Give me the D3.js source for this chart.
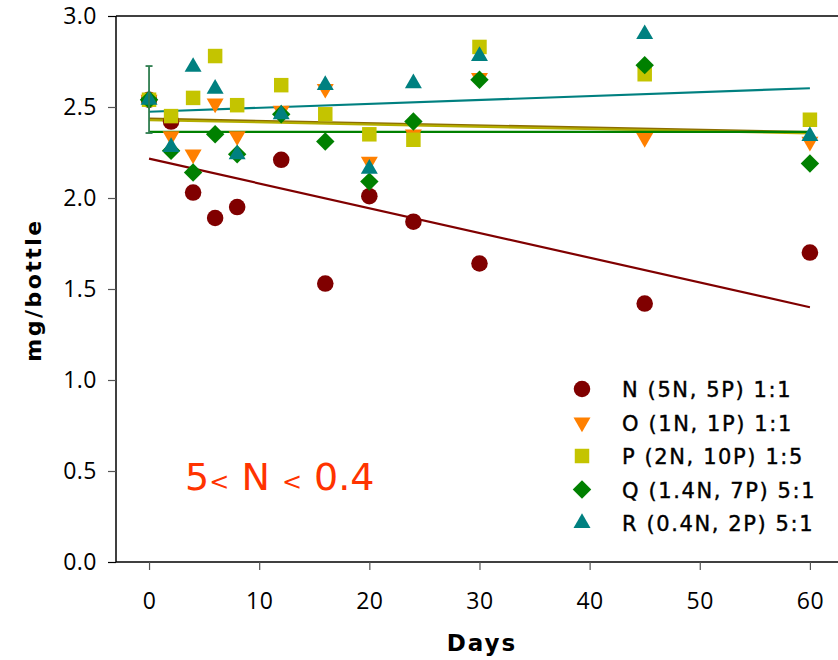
<!DOCTYPE html>
<html>
<head>
<meta charset="utf-8">
<title>mg/bottle vs Days</title>
<script src="https://d3js.org/d3.v7.min.js"></script>
<style>
    body { margin: 0; background: #fff; }
    svg text { fill: #000; }
</style>
</head>
<body>
<svg id="chart" width="838" height="660"></svg>
<script>
    // data
    var days = [0, 2, 4, 6, 8, 12, 16, 20, 24, 30, 45, 60];
    var seriesN = [2.54, 2.42, 2.03, 1.89, 1.95, 2.21, 1.53, 2.01, 1.87, 1.64, 1.42, 1.70];
    var seriesO = [2.54, 2.34, 2.24, 2.52, 2.34, 2.48, 2.60, 2.20, 2.35, 2.66, 2.33, 2.31];
    var seriesP = [2.54, 2.45, 2.55, 2.78, 2.51, 2.62, 2.46, 2.35, 2.32, 2.83, 2.68, 2.43];
    var seriesQ = [2.54, 2.26, 2.14, 2.35, 2.24, 2.46, 2.31, 2.09, 2.42, 2.65, 2.73, 2.19];
    var seriesR = [2.54, 2.28, 2.72, 2.60, 2.24, 2.46, 2.62, 2.16, 2.63, 2.78, 2.90, 2.34];

    // regression lines, value at day 0 and day 60
    var trendDays = [0, 60];
    var trendN = [2.216, 1.40];
    var trendO = [2.436, 2.362];
    var trendP = [2.428, 2.355];
    var trendQ = [2.363, 2.363];
    var trendR = [2.474, 2.603];

    // error bar at day 0
    var errDay = 0;
    var errLow = 2.357;
    var errHigh = 2.725;

    var legendLabels = ["N (5N, 5P) 1:1", "O (1N, 1P) 1:1", "P (2N, 10P) 1:5", "Q (1.4N, 7P) 5:1", "R (0.4N, 2P) 5:1"];
    var xTicks = [0, 10, 20, 30, 40, 50, 60];
    var yTicks = [0, 0.5, 1.0, 1.5, 2.0, 2.5, 3.0];

    var series = [
        {name: "N", values: seriesN, trend: trendN, color: "#800000", lineColor: "#800000", shape: "circle"},
        {name: "O", values: seriesO, trend: trendO, color: "#ff8000", lineColor: "#8c6d00", shape: "down"},
        {name: "P", values: seriesP, trend: trendP, color: "#c4c400", lineColor: "#b3ad00", shape: "square"},
        {name: "Q", values: seriesQ, trend: trendQ, color: "#008000", lineColor: "#008000", shape: "diamond"},
        {name: "R", values: seriesR, trend: trendR, color: "#008080", lineColor: "#008080", shape: "up"}
    ];

    var svg = d3.select("#chart");
    var pLeft = 116, pRight = 838, pTop = 16, pBottom = 562;

    var x = d3.scaleLinear().domain([-3, 62.55]).range([pLeft, pRight]);
    var y = d3.scaleLinear().domain([0, 3]).range([pBottom, pTop]);

    function markerPath(shape) {
        if (shape == "circle") return d3.symbol().type(d3.symbolCircle).size(215)();
        if (shape == "square") return d3.symbol().type(d3.symbolSquare).size(210)();
        if (shape == "diamond") return d3.symbol().type(d3.symbolSquare).size(170)();
        return d3.symbol().type(d3.symbolTriangle).size(125)();
    }
    function markerRotate(shape) {
        if (shape == "down") return 180;
        if (shape == "diamond") return 45;
        return 0;
    }

    // frame top
    svg.append("line")
        .attr("x1", pLeft).attr("x2", pRight)
        .attr("y1", pTop).attr("y2", pTop)
        .attr("stroke", "#000").attr("stroke-width", 1.5);

    // axes
    var yAxis = d3.axisLeft(y).tickValues(yTicks).tickFormat(d3.format(".1f"))
        .tickSize(8).tickPadding(11);
    var gy = svg.append("g").attr("transform", "translate(" + pLeft + ",0)").call(yAxis);

    var xAxis = d3.axisBottom(x).tickValues(xTicks).tickFormat(d3.format("d"))
        .tickSize(8).tickPadding(23);
    var gx = svg.append("g").attr("transform", "translate(0," + pBottom + ")").call(xAxis);

    [gx, gy].forEach(function(g) {
        g.select(".domain").attr("stroke", "#000").attr("stroke-width", 1.5);
        g.selectAll(".tick line").attr("stroke", "#555").attr("stroke-width", 1.2);
        g.selectAll(".tick text")
            .attr("font-family", "Open Sans")
            .attr("font-size", 23)
            .attr("letter-spacing", 0.5)
            .attr("fill", "#000");
    });
    gx.select(".domain").attr("d", "M" + pLeft + ",0H" + pRight);
    gy.select(".domain").attr("d", "M0," + pTop + "V" + pBottom);
    gy.selectAll(".tick line").filter(function(d) { return d === 0 || d === 3; })
        .attr("stroke", "#000");

    // trend lines
    series.forEach(function(s) {
        svg.append("line")
            .attr("x1", x(trendDays[0])).attr("y1", y(s.trend[0]))
            .attr("x2", x(trendDays[1])).attr("y2", y(s.trend[1]))
            .attr("stroke", s.lineColor).attr("stroke-width", 2.2);
    });

    // points
    series.forEach(function(s) {
        svg.append("g").selectAll("path")
            .data(s.values)
            .enter().append("path")
            .attr("d", markerPath(s.shape))
            .attr("transform", function(d, i) {
                return "translate(" + x(days[i]) + "," + y(d) + ") rotate(" + markerRotate(s.shape) + ")";
            })
            .attr("fill", s.color);
    });

    // error bar
    var eb = svg.append("g").attr("stroke", "#2e7d4f").attr("stroke-width", 1.8);
    eb.append("line").attr("x1", x(errDay)).attr("x2", x(errDay))
        .attr("y1", y(errLow)).attr("y2", y(errHigh));
    eb.append("line").attr("x1", x(errDay) - 3.5).attr("x2", x(errDay) + 3.5)
        .attr("y1", y(errLow)).attr("y2", y(errLow));
    eb.append("line").attr("x1", x(errDay) - 3.5).attr("x2", x(errDay) + 3.5)
        .attr("y1", y(errHigh)).attr("y2", y(errHigh));

    // legend
    var legend = svg.append("g").attr("transform", "translate(582,389)");
    series.forEach(function(s, i) {
        var row = legend.append("g").attr("transform", "translate(0," + (i * 33.5) + ")");
        row.append("path")
            .attr("d", markerPath(s.shape))
            .attr("transform", "rotate(" + markerRotate(s.shape) + ")")
            .attr("fill", s.color);
        row.append("text")
            .attr("x", 40).attr("y", 8)
            .attr("font-family", "DejaVu Sans")
            .attr("font-size", 21)
            .attr("letter-spacing", 1.6)
            .attr("stroke", "#000").attr("stroke-width", 0.4)
            .text(legendLabels[i]);
    });

    // axis titles
    svg.append("text")
        .attr("transform", "translate(41,290) rotate(-90)")
        .attr("text-anchor", "middle")
        .attr("font-family", "DejaVu Sans")
        .attr("font-weight", "bold")
        .attr("font-size", 22)
        .attr("letter-spacing", 2.5)
        .text("mg/bottle");

    svg.append("text")
        .attr("x", 482).attr("y", 651)
        .attr("text-anchor", "middle")
        .attr("font-family", "DejaVu Sans")
        .attr("font-weight", "bold")
        .attr("font-size", 23)
        .attr("letter-spacing", 2)
        .text("Days");

    // annotation
    var note = svg.append("text")
        .attr("x", 185).attr("y", 490)
        .attr("font-family", "DejaVu Sans")
        .attr("font-size", 38)
        .style("fill", "#ff3300");
    note.append("tspan").text("5");
    note.append("tspan").attr("font-size", 24).text("<");
    note.append("tspan").text(" N ");
    note.append("tspan").attr("font-size", 24).text("<");
    note.append("tspan").text(" 0.4");
</script>
</body>
</html>
